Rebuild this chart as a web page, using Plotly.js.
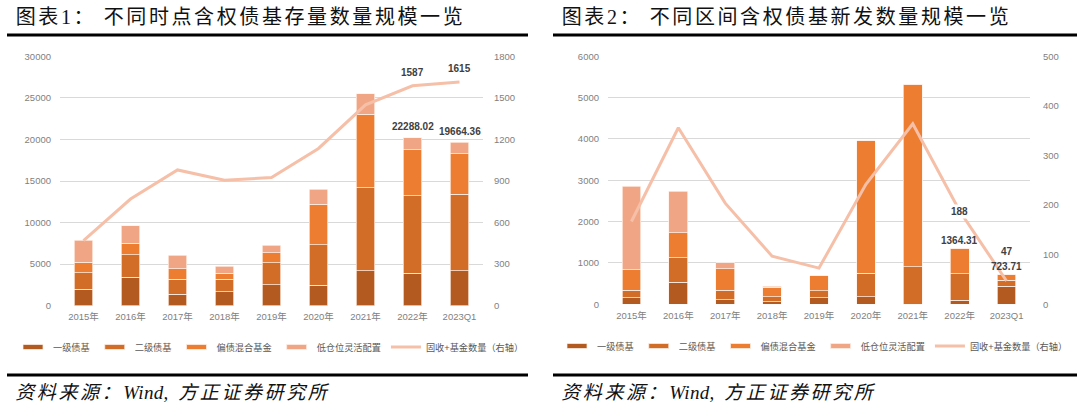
<!DOCTYPE html>
<html>
<head>
<meta charset="utf-8">
<script src="https://cdn.plot.ly/plotly-3.0.1.min.js"></script>
<style>
  html, body { margin: 0; padding: 0; background: #ffffff; }
  #chart { width: 1080px; height: 406px; }
  .annotation[data-index="0"] text, .annotation[data-index="1"] text { letter-spacing: 2.6px; }
  .annotation[data-index="2"] text, .annotation[data-index="3"] text { letter-spacing: 2.6px; }
  .annotation text tspan[style*="italic"] { letter-spacing: 0.3px; }
  g.legendpoints path[d="M6,6H-6V-6H6Z"] { d: path("M10,2.5H-10V-2.5H10Z"); }
</style>
</head>
<body>
<div id="chart"></div>
<script>
// ---------- data ----------
const categories = ['2015年', '2016年', '2017年', '2018年', '2019年', '2020年', '2021年', '2022年', '2023Q1'];
const seriesNames = ['一级债基', '二级债基', '偏债混合基金', '低仓位灵活配置'];
const lineName = '固收+基金数量（右轴）';

// Chart 1: stock scale (left axis) and fund count (right axis)
const stockLevel1 = [2000, 3450, 1400, 1680, 2530, 2490, 4210, 3890, 4210];
const stockLevel2 = [1970, 2650, 1810, 1490, 2640, 4850, 9990, 9350, 9190];
const stockMixed  = [1280, 1400, 1240, 720, 1210, 4890, 8820, 5490, 4850];
const stockFlex   = [2610, 2130, 1610, 880, 880, 1770, 2490, 1490, 1400];
const stockCount  = [470, 770, 980, 905, 925, 1135, 1450, 1587, 1615];
const stockTotalLabels = [null, null, null, null, null, null, null, '22288.02', '19664.36'];
const stockCountLabels = [null, null, null, null, null, null, null, '1587', '1615'];

// Chart 2: new issuance scale (left axis) and fund count (right axis)
const newLevel1 = [161, 532, 113, 65, 161, 177, 0, 97, 435];
const newLevel2 = [178, 597, 226, 112, 162, 573, 911, 637, 150];
const newMixed  = [491, 597, 524, 234, 371, 3202, 4412, 621, 125];
const newFlex   = [2025, 1008, 145, 24, 0, 0, 0, 0, 0];
const newCount  = [167, 356, 204, 97, 73, 242, 364, 188, 47];
const newTotalLabels = [null, null, null, null, null, null, null, '1364.31', '723.71'];
const newCountLabels = [null, null, null, null, null, null, null, '188', '47'];

// ---------- styles ----------
const barColors = ['#B35A20', '#D26D28', '#ED7D31', '#F0A685'];
const lineColor = '#F6BFA8';
const tickFont = { family: 'Liberation Sans, Noto Sans CJK SC, sans-serif', size: 9.5, color: '#7F7F7F' };
const legendFont = { family: 'Liberation Sans, Noto Sans CJK SC, sans-serif', size: 9.2, color: '#595959' };
const labelFont = { family: 'Liberation Sans, Noto Sans CJK SC, sans-serif', size: 10, color: '#404040', weight: 'bold' };
const titleFont = { family: 'Liberation Serif, Noto Sans CJK SC, serif', size: 20, color: '#111111' };
const footFont = { family: 'Liberation Serif, Noto Sans CJK SC, serif', size: 19, color: '#111111', style: 'italic' };

function barTraces(series, xa, ya, legendId) {
  return series.map((vals, k) => ({
    type: 'bar', x: categories, y: vals, name: seriesNames[k],
    xaxis: xa, yaxis: ya, legend: legendId,
    marker: { color: barColors[k], line: { color: 'rgba(255,240,232,0.9)', width: 0.8 } }
  }));
}

const traces = [
  ...barTraces([stockLevel1, stockLevel2, stockMixed, stockFlex], 'x', 'y', 'legend'),
  { type: 'scatter', mode: 'lines', x: categories, y: stockCount, name: lineName,
    xaxis: 'x', yaxis: 'y2', legend: 'legend', line: { color: lineColor, width: 3 } },
  ...barTraces([newLevel1, newLevel2, newMixed, newFlex], 'x2', 'y3', 'legend2'),
  { type: 'scatter', mode: 'lines', x: categories, y: newCount, name: lineName,
    xaxis: 'x2', yaxis: 'y4', legend: 'legend2', line: { color: lineColor, width: 3 } }
];

// ---------- layout helpers ----------
const H = 406, W = 1080;
const py = v => (H - v) / H, px = v => v / W;

// ---------- annotations ----------
const annotations = [
  { text: '图表1： 不同时点含权债基存量数量规模一览', xref: 'paper', yref: 'paper', x: px(41), y: 0.957, xanchor: 'left', yanchor: 'middle', showarrow: false, font: titleFont },
  { text: '图表2： 不同区间含权债基新发数量规模一览', xref: 'paper', yref: 'paper', x: px(587), y: 0.957, xanchor: 'left', yanchor: 'middle', showarrow: false, font: titleFont },
  { text: '资料来源：<i>Wind</i>, 方正证券研究所', xref: 'paper', yref: 'paper', x: px(32), y: 0.034, xanchor: 'left', yanchor: 'middle', showarrow: false, font: footFont },
  { text: '资料来源：<i>Wind</i>, 方正证券研究所', xref: 'paper', yref: 'paper', x: px(578), y: 0.034, xanchor: 'left', yanchor: 'middle', showarrow: false, font: footFont }
];

function totals(arrs) { return categories.map((_, i) => arrs.reduce((s, a) => s + a[i], 0)); }
const stockTotals = totals([stockLevel1, stockLevel2, stockMixed, stockFlex]);
const newTotals = totals([newLevel1, newLevel2, newMixed, newFlex]);

stockTotalLabels.forEach((t, i) => { if (t) annotations.push({ text: t, x: categories[i], y: stockTotals[i], xref: 'x', yref: 'y', yshift: 11, showarrow: false, font: labelFont }); });
stockCountLabels.forEach((t, i) => { if (t) annotations.push({ text: t, x: categories[i], y: stockCount[i], xref: 'x', yref: 'y2', yshift: 13, showarrow: false, font: labelFont }); });
newTotalLabels.forEach((t, i) => { if (t) annotations.push({ text: t, x: categories[i], y: newTotals[i], xref: 'x2', yref: 'y3', yshift: 8, showarrow: false, font: labelFont }); });
newCountLabels.forEach((t, i) => { if (t) annotations.push({ text: t, x: categories[i], y: newCount[i], xref: 'x2', yref: 'y4', yshift: i === 7 ? 0 : 29, showarrow: false, font: labelFont, bgcolor: i === 7 ? '#ffffff' : 'rgba(0,0,0,0)' }); });

// ---------- layout ----------
const commonX = { type: 'category', showgrid: false, showline: false, zeroline: false, ticks: '', tickfont: tickFont, ticklabelstandoff: 4, fixedrange: true };
const leftY = { showgrid: true, gridcolor: '#D9D9D9', gridwidth: 1, zeroline: false, showline: false, ticks: '', tickfont: tickFont, ticklabelstandoff: 8, tickformat: 'd' };

const layout = {
  width: W, height: H,
  margin: { l: 0, r: 0, t: 0, b: 0 },
  paper_bgcolor: '#ffffff', plot_bgcolor: '#ffffff',
  barmode: 'stack', bargap: 0.6,
  showlegend: true,
  xaxis: Object.assign({}, commonX, { domain: [px(60), px(483)], anchor: 'y' }),
  yaxis: Object.assign({}, leftY, { domain: [py(305.7), py(56.3)], anchor: 'x', range: [0, 30000], dtick: 5000 }),
  yaxis2: { overlaying: 'y', side: 'right', anchor: 'x', range: [0, 1800], dtick: 300, showgrid: false, zeroline: false, showline: false, ticks: '', tickfont: tickFont, ticklabelstandoff: 10, tickformat: 'd' },
  xaxis2: Object.assign({}, commonX, { domain: [px(608), px(1030)], anchor: 'y3' }),
  yaxis3: Object.assign({}, leftY, { domain: [py(304.3), py(56.3)], anchor: 'x2', range: [0, 6000], dtick: 1000 }),
  yaxis4: { overlaying: 'y3', side: 'right', anchor: 'x2', range: [0, 500], dtick: 100, showgrid: false, zeroline: false, showline: false, ticks: '', tickfont: tickFont, ticklabelstandoff: 12, tickformat: 'd' },
  legend: { orientation: 'h', x: px(271), y: py(347), xanchor: 'center', yanchor: 'middle', font: legendFont, traceorder: 'normal', itemwidth: 30, bgcolor: 'rgba(0,0,0,0)' },
  legend2: { orientation: 'h', x: px(815), y: py(346), xanchor: 'center', yanchor: 'middle', font: legendFont, traceorder: 'normal', itemwidth: 30, bgcolor: 'rgba(0,0,0,0)' },
  annotations: annotations,
  shapes: [
    { type: 'line', xref: 'paper', yref: 'paper', x0: px(7), x1: px(528), y0: py(35), y1: py(35), line: { color: '#000000', width: 3 } },
    { type: 'line', xref: 'paper', yref: 'paper', x0: px(553), x1: px(1077), y0: py(35), y1: py(35), line: { color: '#000000', width: 3 } },
    { type: 'line', xref: 'paper', yref: 'paper', x0: px(7), x1: px(528), y0: py(375), y1: py(375), line: { color: '#000000', width: 3 } },
    { type: 'line', xref: 'paper', yref: 'paper', x0: px(553), x1: px(1077), y0: py(375), y1: py(375), line: { color: '#000000', width: 3 } }
  ]
};

Plotly.newPlot('chart', traces, layout, { staticPlot: true, displayModeBar: false });
</script>
</body>
</html>
